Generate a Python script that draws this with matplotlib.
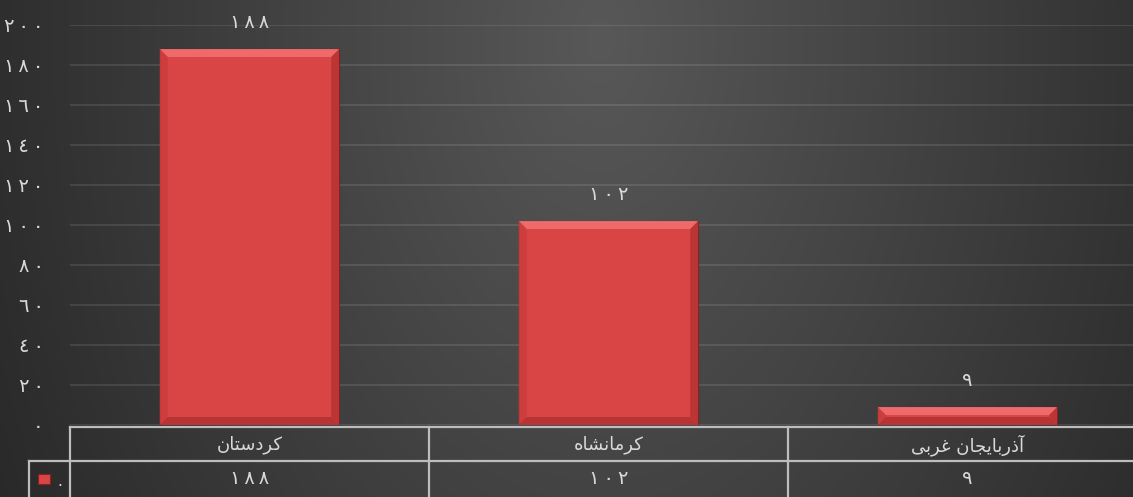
import numpy as np
import matplotlib
matplotlib.use("Agg")
import matplotlib.pyplot as plt
from matplotlib.patches import Polygon, Rectangle

# data
categories = ["کردستان", "کرمانشاه", "آذربایجان غربی"]
# visual (pre-shaped, left-to-right) forms of the names, matplotlib can't shape arabic
categories_shown = [
    "\ufee5\ufe8e\ufe98\ufeb3\ufea9\ufeae\ufedb",
    "\ufee9\ufe8e\ufeb8\ufee7\ufe8e\ufee3\ufeae\ufedb",
    "\ufef0\ufe91\ufeae\ufecf \ufee5\ufe8e\ufea0\ufef3\ufe8e\ufe91\ufead\ufeab\ufe81",
]
values = [188, 102, 9]
yticks = [0, 20, 40, 60, 80, 100, 120, 140, 160, 180, 200]

DIGITS = str.maketrans("0123456789", "\u0660\u0661\u0662\u0663\u0664\u0665\u0666\u0667\u0668\u0669")

def fa(n):
    # spaced out like the original font
    return "\u2009".join(str(n).translate(DIGITS))

W, H = 1133, 497
txt = "#d9d9d9"
plt.rcParams["font.family"] = ["DejaVu Sans"]

fig = plt.figure(figsize=(W / 100, H / 100), dpi=100)

# background gradient
bg = fig.add_axes([0, 0, 1, 1], zorder=-10)
yy, xx = np.mgrid[0:H, 0:W]
r = np.sqrt(((xx - 600) / 720.0) ** 2 + ((yy - 40) / 1100.0) ** 2)
r = np.clip(r, 0, 1)
c0, c1 = np.array([0x58, 0x58, 0x58]) / 255, np.array([0x26, 0x26, 0x26]) / 255
img = c0[None, None, :] * (1 - r[..., None]) + c1[None, None, :] * r[..., None]
bg.imshow(img, extent=[0, W, H, 0], aspect="auto")
bg.set_xlim(0, W)
bg.set_ylim(H, 0)
bg.axis("off")

x0, y0 = 70, 425
col_w = 359
n = len(categories)
ax = fig.add_axes([x0 / W, (H - y0) / H, n * col_w / W, 400 / H])
ax.patch.set_alpha(0)
x = np.arange(n)
ax.set_xlim(-0.5, n - 0.5)
ax.set_ylim(0, 200)
ax.set_yticks(yticks)
ax.set_yticklabels([fa(t) for t in yticks], color=txt, fontsize=14)
ax.tick_params(axis="y", length=0, pad=19)
ax.set_xticks([])
ax.yaxis.grid(True, color="white", alpha=0.1, linewidth=1.5)
ax.set_axisbelow(True)
for s in ax.spines.values():
    s.set_visible(False)

bars = ax.bar(x, values, width=0.5, color="#d94545", edgecolor="#7a1c1c", linewidth=0.8, zorder=2)

fig.canvas.draw()
for b in bars:
    (bx0, by0), (bx1, by1) = ax.transData.transform([(b.get_x(), 0), (b.get_x() + b.get_width(), b.get_height())])
    bw = min(8, (by1 - by0) / 2)
    faces = [
        ([(bx0, by1), (bx1, by1), (bx1 - bw, by1 - bw), (bx0 + bw, by1 - bw)], "#f27070"),
        ([(bx0, by0), (bx0 + bw, by0 + bw), (bx0 + bw, by1 - bw), (bx0, by1)], "#cc3d3d"),
        ([(bx1, by0), (bx1, by1), (bx1 - bw, by1 - bw), (bx1 - bw, by0 + bw)], "#b83434"),
        ([(bx0, by0), (bx1, by0), (bx1 - bw, by0 + bw), (bx0 + bw, by0 + bw)], "#b53232"),
    ]
    for pts, col in faces:
        fig.patches.append(Polygon(pts, closed=True, facecolor=col, edgecolor="none",
                                   transform=None, figure=fig, zorder=3, alpha=0.9))

for xi, v in zip(x, values):
    ax.annotate(fa(v), (xi, v), xytext=(0, 19), textcoords="offset points",
                ha="center", va="center", color=txt, fontsize=14)

# data table
tab = fig.add_axes([0, 0, 1, 1], zorder=5)
tab.set_xlim(0, W)
tab.set_ylim(H, 0)
tab.axis("off")
tab.patch.set_alpha(0)
lc, lw = "#bdbdbd", 1.6
row1, row2 = 427, 461
tab.plot([x0, W], [row1, row1], color=lc, lw=lw)
tab.plot([29, W], [row2, row2], color=lc, lw=lw)
tab.plot([29, 29], [row2, H], color=lc, lw=lw)
for i in range(n):
    xv = x0 + i * col_w
    tab.plot([xv, xv], [row1, H], color=lc, lw=lw)
for i, (name, v) in enumerate(zip(categories_shown, values)):
    cx = x0 + (i + 0.5) * col_w
    tab.text(cx, (row1 + row2) / 2 + 1, name, ha="center", va="center", color=txt, fontsize=13)
    tab.text(cx, (row2 + H) / 2, fa(v), ha="center", va="center", color=txt, fontsize=14)

# legend key
tab.add_patch(Rectangle((38, 474), 12, 10, facecolor="#d94545", edgecolor="#8b2020", lw=0.8))
tab.text(60, 481, ".", ha="center", va="center", color=txt, fontsize=11)

fig.savefig("out.png", dpi=100)
